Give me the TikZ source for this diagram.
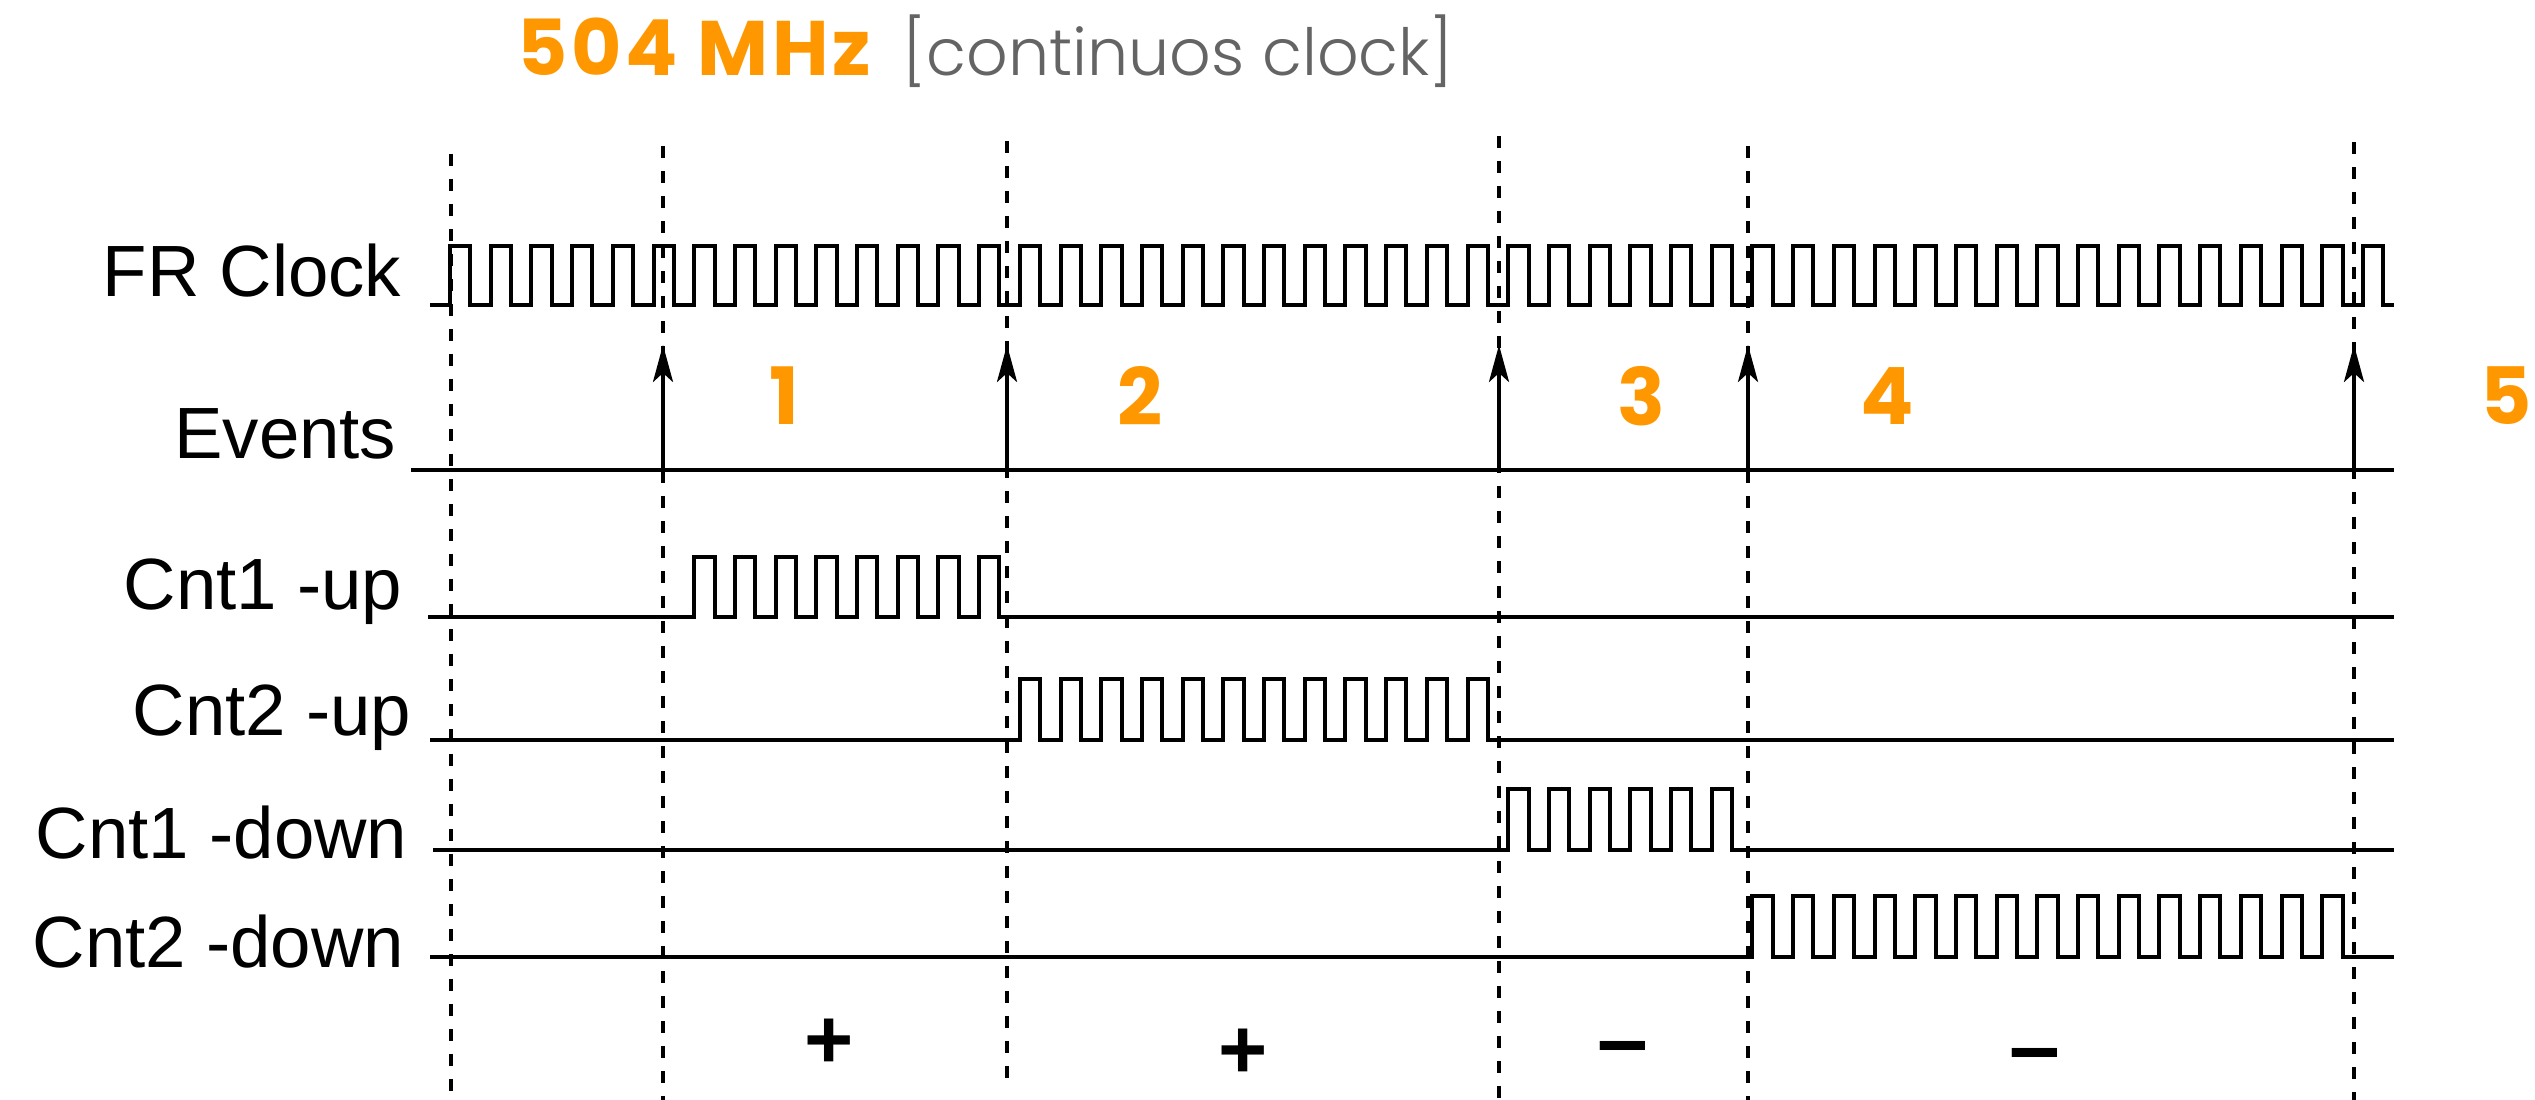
\documentclass[tikz,border=0pt]{standalone}
\usepackage{fontspec}
\setmainfont{Liberation Sans}
\newfontfamily\popfont{Poppins}
\newfontfamily\poptitle{Poppins}[LetterSpace=4.5]
\IfFontExistsTF{Poppins Light}{\newfontfamily\poplight{Poppins Light}}{\newfontfamily\poplight{Poppins}}
\usetikzlibrary{arrows.meta}
\definecolor{accent}{RGB}{255,152,0}
\definecolor{subgray}{RGB}{100,100,100}
\tikzset{
  wave/.style={line width=0.4mm, line join=miter, black},
  guide/.style={line width=0.4mm, dash pattern=on 1.2mm off 1.3mm},
  evarrow/.style={line width=0.4mm, -{Stealth[length=3.7mm,width=2mm,inset=0.9mm]}},
  siglabel/.style={anchor=base east, inner sep=0pt, font=\fontsize{20.66pt}{24pt}\selectfont},
  evnum/.style={anchor=center, inner sep=0pt, text=accent, font=\popfont\bfseries\fontsize{22.5pt}{26pt}\selectfont},
  signmark/.style={inner sep=0pt, font=\bfseries\fontsize{24pt}{28pt}\selectfont},
}
\newcommand{\pulsetrain}[6]{%
  \draw[wave] (#1,#2) \foreach \k in {#4,...,#5} { -- ({450+\k*40.7},#2) -- ({450+\k*40.7},#3) -- ({450+\k*40.7+20.35},#3) -- ({450+\k*40.7+20.35},#2) } -- (#6,#2);
}
\begin{document}
\begin{tikzpicture}[x=0.1mm,y=-0.1mm]
\fill[white] (0,0) rectangle (2535,1100);
\useasboundingbox (0,0) rectangle (2535,1100);

% title
\node[anchor=base west, inner sep=0pt, text=accent, font=\poptitle\bfseries\fontsize{22pt}{26pt}\selectfont] (title) at (517,76) {504 MHz};
\node[anchor=base west, inner sep=0pt, text=subgray, font=\poplight\fontsize{18.5pt}{22pt}\selectfont] (subtitle) at (902,76) {[continuos clock]};

% guides
\foreach \gx/\gt/\gb in {451/154/1100, 663/146/1100, 1007/141/1080, 1499/136/1100, 1748/146/1100, 2354/142/1100}
  \draw[guide] (\gx,\gt) -- (\gx,\gb);

% labels
\node[siglabel] (lclk) at (402,297) {FR Clock};
\node[siglabel] (lev) at (397,459) {Events};
\node[siglabel] (lc1u) at (403,610) {Cnt1 -up};
\node[siglabel] (lc2u) at (412,736) {Cnt2 -up};
\node[siglabel] (lc1d) at (408,859) {Cnt1 -down};
\node[siglabel] (lc2d) at (405,968) {Cnt2 -down};

% waveforms
\pulsetrain{430}{305}{246}{0}{47}{2394}
\pulsetrain{428}{617}{557}{6}{13}{2394}
\pulsetrain{430}{740}{679}{14}{25}{2394}
\pulsetrain{433}{850}{789}{26}{31}{2394}
\pulsetrain{430}{957}{896}{32}{46}{2394}

% events line
\coordinate (evs) at (411,470);
\coordinate (eve) at (2394,470);
\draw[wave] (evs) -- (eve);
\foreach \n/\ex in {1/663, 2/1007, 3/1499, 4/1748, 5/2354} {
  \coordinate (e\n) at (\ex,470);
  \coordinate (t\n) at (\ex,345);
  \draw[evarrow] (e\n) -- (t\n);
}

% event numbers
\node[evnum] (n1) at (784,396) {1};
\node[evnum] (n2) at (1140,396) {2};
\node[evnum] (n3) at (1641,396) {3};
\node[evnum] (n4) at (1887,396) {4};
\node[evnum] (n5) at (2506,396) {5};

% signs
\node[signmark] (s1) at (829,1044) {+};
\node[signmark] (s2) at (1243,1054) {+};
\node[signmark, font=\bfseries\fontsize{26pt}{28pt}\selectfont] (s3) at (1623,1056) {–};
\node[signmark, font=\bfseries\fontsize{26pt}{28pt}\selectfont] (s4) at (2035,1063) {–};
\end{tikzpicture}
\end{document}
